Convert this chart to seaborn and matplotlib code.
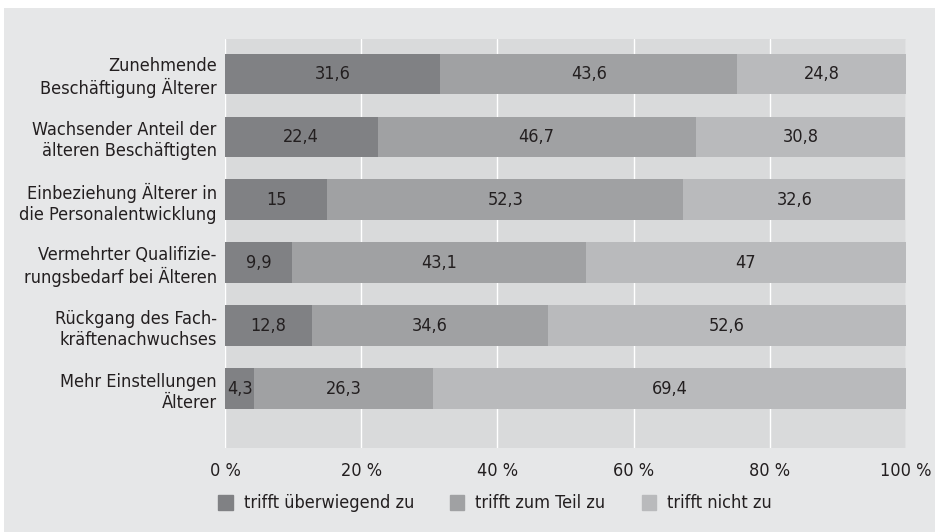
import matplotlib
matplotlib.use("Agg")
import matplotlib.pyplot as plt
import matplotlib.patches as mpatches
import seaborn as sns
import pandas as pd

# chart data
categories = [
    "Zunehmende\nBeschäftigung Älterer",
    "Wachsender Anteil der\nälteren Beschäftigten",
    "Einbeziehung Älterer in\ndie Personalentwicklung",
    "Vermehrter Qualifizie-\nrungsbedarf bei Älteren",
    "Rückgang des Fach-\nkräftenachwuchses",
    "Mehr Einstellungen\nÄlterer",
]
series_names = ["trifft überwiegend zu", "trifft zum Teil zu", "trifft nicht zu"]
ueberwiegend = [31.6, 22.4, 15, 9.9, 12.8, 4.3]
zum_teil = [43.6, 46.7, 52.3, 43.1, 34.6, 26.3]
nicht = [24.8, 30.8, 32.6, 47, 52.6, 69.4]
tick_vals = [0, 20, 40, 60, 80, 100]
tick_labels = ["0 %", "20 %", "40 %", "60 %", "80 %", "100 %"]

colors = ["#808184", "#a0a1a3", "#b9babc"]
fig_bg = "#e6e7e8"
ax_bg = "#d9dadb"
text_col = "#231f20"

sns.set_style("white")
plt.rcParams["font.family"] = ["DejaVu Sans"]
plt.rcParams["font.stretch"] = "condensed"

df = pd.DataFrame({"kat": categories, series_names[0]: ueberwiegend,
                   series_names[1]: zum_teil, series_names[2]: nicht})

fig = plt.figure(figsize=(9.35, 5.32), dpi=100)
fig.patch.set_facecolor("white")
# grey panel behind everything
fig.patches.append(mpatches.Rectangle((4 / 935, 0), 1, 1 - 8 / 532, transform=fig.transFigure,
                                      facecolor=fig_bg, edgecolor="none", zorder=-10))
ax = fig.add_axes([225 / 935, 1 - 448 / 532, (906 - 225) / 935, (448 - 39) / 532])
ax.set_facecolor(ax_bg)

left = [0] * len(categories)
for name, col in zip(series_names, colors):
    vals = df[name].tolist()
    sns.barplot(x=[l + v for l, v in zip(left, vals)], y=df["kat"], color=col, orient="h",
                width=0.65, ax=ax, saturation=1, linewidth=0, label=name)
    for i, (l, v) in enumerate(zip(left, vals)):
        txt = f"{v:g}".replace(".", ",")
        ax.text(l + v / 2, i, txt, ha="center", va="center", fontsize=13, color=text_col, zorder=5)
    left = [l + v for l, v in zip(left, vals)]

# stacking: later (longer) bars go underneath
for i, c in enumerate(ax.containers):
    for p in c:
        p.set_zorder(3 - i)

ax.set_xlim(0, 100)
ax.set_ylim(5.94, -0.556)
ax.set_xticks(tick_vals)
ax.set_xticklabels(tick_labels, fontsize=13, color=text_col)
ax.tick_params(axis="y", labelsize=13, colors=text_col, length=0, pad=6)
ax.tick_params(axis="x", length=0, pad=10)
ax.set_xlabel("")
ax.set_ylabel("")
for lbl in ax.get_yticklabels():
    lbl.set_multialignment("right")
ax.grid(axis="x", color="white", linewidth=1, zorder=1)
ax.set_axisbelow(True)
for s in ax.spines.values():
    s.set_visible(False)

handles = [mpatches.Patch(color=c, label=n) for c, n in zip(colors, series_names)]
leg = ax.legend(handles=handles, loc="upper left", bbox_to_anchor=(202 / 935, 1 - 478 / 532),
                bbox_transform=fig.transFigure, ncol=3, frameon=False, fontsize=13,
                handlelength=0.8, handleheight=0.9, handletextpad=0.6, columnspacing=2.0,
                labelcolor=text_col)

fig.savefig("out.png", dpi=100, facecolor=fig.get_facecolor())
